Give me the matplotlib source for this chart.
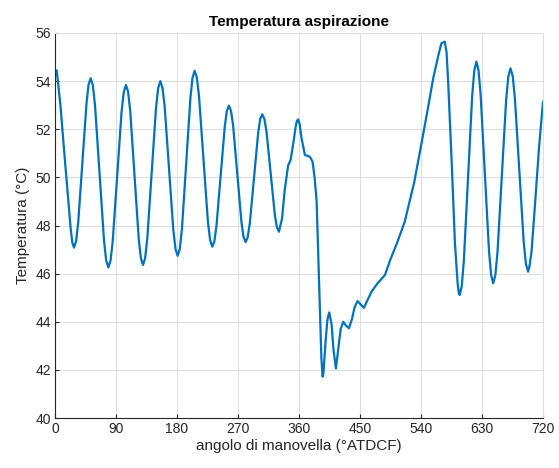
import matplotlib
matplotlib.use("Agg")
import matplotlib.pyplot as plt

# crank angle (deg) and intake temperature (degC)
angle = [0, 2.5, 8, 12.3, 18, 23, 25.5, 28, 31.1, 34.2, 40.3, 46.5, 49.5, 52.6,
         55.9, 59.1, 65.7, 72.2, 75.4, 78.7, 82.0, 85.2, 91.7, 98.2, 101.5, 104.7,
         107.8, 111.0, 117.3, 123.5, 126.7, 129.8, 133.0, 136.2, 142.6, 149.0, 152.2, 155.4,
         158.6, 161.8, 168.2, 174.6, 177.8, 181, 184.1, 187.3, 193.5, 199.8, 202.9, 206,
         209.3, 212.5, 219, 225.5, 228.8, 232, 235.1, 238.2, 244.3, 250.5, 253.5, 256.6,
         259.7, 262.8, 268.9, 275.1, 278.1, 281.2, 284.3, 287.4, 293.5, 299.7, 302.7, 305.8,
         308.9, 312.0, 318.1, 324.3, 327.3, 330.4, 335, 339, 344, 347.6, 352, 355, 357, 358.9,
         361, 363.8, 368.7, 376, 380, 383, 386, 390, 393, 394.8, 396, 397.5,
         399.5, 402, 404.6, 408, 411, 414.5, 418, 421.5, 425.3, 429, 433.6,
         438, 442, 446.4, 451, 455.7, 467, 476, 486.7, 495, 505, 516, 530,
         543, 551, 558, 565, 570, 575, 577.7, 580, 585, 590, 594, 595.5, 597,
         600.1, 603.2, 609.4, 615.5, 618.6, 621.7, 624.8, 627.9, 634.1, 640.3, 643.4, 646.5,
         649.7, 652.9, 659.3, 665.6, 668.8, 672, 675.3, 678.5, 685, 691.5, 694.8, 698,
         700, 703, 708, 714, 720]
temp = [54.25, 54.45, 53.0, 51.5, 49.6, 47.9, 47.3, 47.08, 47.35, 48.11, 50.6, 53.09, 53.85, 54.12,
        53.82, 52.97, 50.19, 47.41, 46.56, 46.26, 46.55, 47.37, 50.05, 52.73, 53.55, 53.84,
        53.56, 52.75, 50.1, 47.45, 46.64, 46.36, 46.65, 47.48, 50.18, 52.88, 53.71, 54.0,
        53.72, 52.94, 50.37, 47.8, 47.02, 46.74, 47.03, 47.86, 50.59, 53.31, 54.14, 54.43,
        54.15, 53.36, 50.78, 48.19, 47.4, 47.12, 47.34, 47.98, 50.05, 52.12, 52.76, 52.98,
        52.76, 52.15, 50.15, 48.14, 47.53, 47.31, 47.51, 48.09, 49.97, 51.84, 52.42, 52.62,
        52.43, 51.91, 50.18, 48.45, 47.93, 47.74, 48.3, 49.5, 50.5, 50.72, 51.5, 52.1, 52.35, 52.41,
        52.2, 51.62, 50.93, 50.86, 50.65, 50.0, 49.0, 45.2, 42.5, 41.72, 41.85, 42.5,
        43.3, 44.1, 44.39, 43.9, 42.8, 42.06, 42.9, 43.7, 44.0, 43.85, 43.73,
        44.1, 44.6, 44.86, 44.72, 44.58, 45.25, 45.6, 45.94, 46.6, 47.3, 48.16, 49.8,
        51.76, 53.0, 54.12, 55.0, 55.57, 55.64, 55.2, 54.0, 50.8, 47.3, 45.6, 45.25, 45.11,
        45.48, 46.53, 49.96, 53.39, 54.44, 54.81, 54.46, 53.46, 50.2, 46.95, 45.95, 45.6,
        45.94, 46.91, 50.07, 53.22, 54.19, 54.53, 54.21, 53.29, 50.3, 47.32, 46.4, 46.08,
        46.3, 46.9, 48.8, 51.2, 53.15]

xticks = [0, 90, 180, 270, 360, 450, 540, 630, 720]
yticks = [40, 42, 44, 46, 48, 50, 52, 54, 56]

plt.rcParams["font.family"] = ["Liberation Sans", "DejaVu Sans"]

fig = plt.figure(figsize=(5.59, 4.68), dpi=100)
ax = fig.add_axes([0.0984, 0.1068, 0.873, 0.8227])

ax.plot(angle, temp, color="#0072BD", linewidth=1.6,
        solid_joinstyle="round", solid_capstyle="round")

ax.set_xlim(0, 720)
ax.set_ylim(40, 56)
ax.set_xticks(xticks)
ax.set_yticks(yticks)
ax.grid(True, color="#dfdfdf", linewidth=0.8)
ax.set_axisbelow(True)

for side in ["top", "right"]:
    ax.spines[side].set_color("#dfdfdf")
for side in ["left", "bottom"]:
    ax.spines[side].set_color("#262626")
ax.tick_params(direction="in", length=3, colors="#262626", labelsize=10, pad=3)

ax.set_xlabel("angolo di manovella (°ATDCF)", fontsize=11, color="#262626", labelpad=2)
ax.set_ylabel("Temperatura (°C)", fontsize=11, color="#262626", labelpad=4)
ax.set_title("Temperatura aspirazione", fontsize=11, fontweight="bold", pad=5)

fig.savefig("out.png", dpi=100)
